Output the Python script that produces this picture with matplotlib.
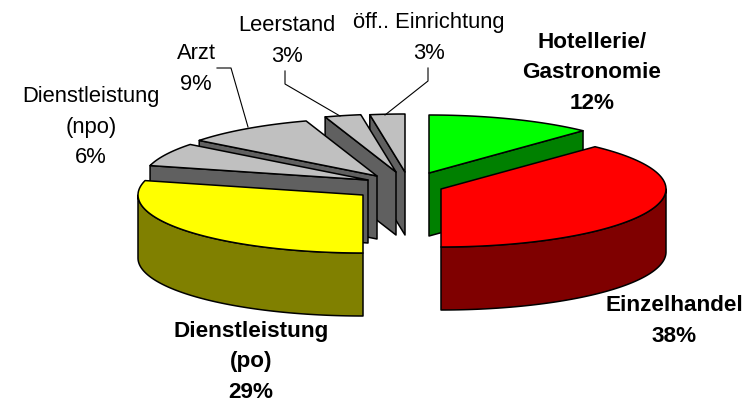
import numpy as np
import matplotlib
matplotlib.use('Agg')
import matplotlib.pyplot as plt
from matplotlib.patches import Polygon

plt.rcParams['font.family'] = ['Liberation Sans', 'DejaVu Sans']

# shares, clockwise from 12 o'clock
names = ['Hotellerie/\nGastronomie', 'Einzelhandel', 'Dienstleistung\n(po)',
         'Dienstleistung\n(npo)', 'Arzt', 'Leerstand', 'öff.. Einrichtung']
shares = [12, 38, 29, 6.5, 9.4, 2.6, 2.5]
pct_labels = ['12%', '38%', '29%', '6%', '9%', '3%', '3%']
bold = [True, True, True, False, False, False, False]

top_col = ['#00ff00', '#ff0000', '#ffff00', '#c0c0c0', '#c0c0c0', '#c0c0c0', '#c0c0c0']
side_col = ['#008000', '#7f0000', '#808000', '#606060', '#606060', '#606060', '#606060']

# slice tip in pixels (exploded pie)
tip_x = [429, 441, 363, 368, 377, 396, 405]
tip_y = [173, 189, 195, 180, 176, 172, 172]
label_xy = [(592, 73), (674, 321), (251, 362), (91, 127), (196, 69), (287, 41), (429, 38)]

RX, RY, DEPTH = 225, 58, 63


def rim(i, a):
    return tip_x[i] + RX*np.sin(a), tip_y[i] - RY*np.cos(a)


fig = plt.figure(figsize=(7.49, 4.03), dpi=100)
ax = fig.add_axes([0, 0, 1, 1])
ax.set_xlim(0, 749)
ax.set_ylim(403, 0)
ax.axis('off')

edges = np.cumsum([0] + shares)/100.*2*np.pi

# back slices first, then the front ones
for i in [6, 5, 4, 3, 2, 0, 1]:
    a0, a1 = edges[i], edges[i+1]
    t = np.linspace(a0, a1, 80)
    x, y = rim(i, t)
    tip = (tip_x[i], tip_y[i])
    kw = dict(ec='k', lw=1.1, joinstyle='round')

    # outer wall, only where it looks at the viewer
    w0, w1 = max(a0, np.pi/2), min(a1, 1.5*np.pi)
    if w1 > w0:
        wx, wy = rim(i, np.linspace(w0, w1, 80))
        ax.add_patch(Polygon(np.r_[np.c_[wx, wy], np.c_[wx, wy+DEPTH][::-1]],
                             fc=side_col[i], **kw))

    # cut faces
    for a, vis in [(a0, np.sin(a0) < -1e-6), (a1, np.sin(a1) > 1e-6)]:
        if vis:
            ex, ey = rim(i, a)
            ax.add_patch(Polygon([tip, (ex, ey), (ex, ey+DEPTH), (tip[0], tip[1]+DEPTH)],
                                 fc=side_col[i], **kw))

    ax.add_patch(Polygon(np.r_[[tip], np.c_[x, y]], fc=top_col[i], **kw))

# leader lines
ax.plot([217, 231, 248], [68, 68, 127], color='k', lw=0.8)
ax.plot([285, 285, 340], [71, 84, 116], color='k', lw=0.8)
ax.plot([428, 428, 385], [68, 81, 115], color='k', lw=0.8)

for i, (lx, ly) in enumerate(label_xy):
    ax.text(lx, ly, names[i] + '\n' + pct_labels[i], ha='center', va='center',
            fontsize=16.2 if bold[i] else 15.8,
            fontweight='bold' if bold[i] else 'normal', linespacing=1.58)

fig.savefig('out.png', dpi=100)
